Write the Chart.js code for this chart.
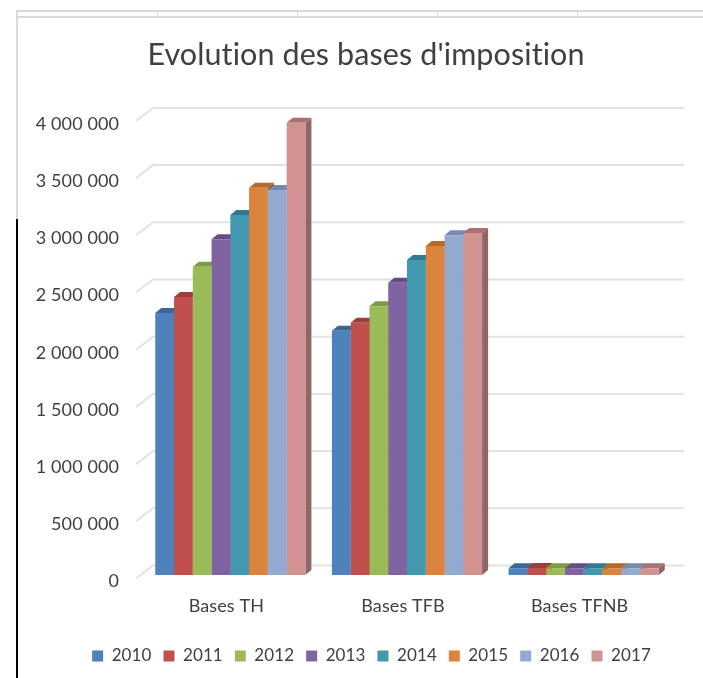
<!DOCTYPE html>
<html lang="fr">

<head>
    <meta charset="UTF-8">
    <title>Evolution des bases d'imposition</title>
    <style>
        body {
            margin: 0;
            background-color: #ffffff;
        }

        #wrap {
            position: relative;
            width: 703px;
            height: 678px;
            overflow: hidden;
        }

        /* spreadsheet cell borders around the pasted chart */
        .cell {
            position: absolute;
            background: #d9d9d9;
        }

        canvas {
            position: absolute;
            left: 0;
            top: 0;
        }
    </style>
</head>

<body>
    <div id="wrap">
        <div class="cell" style="left:16px;top:10px;width:687px;height:2px"></div>
        <div class="cell" style="left:16px;top:16px;width:687px;height:2px"></div>
        <div class="cell" style="left:16px;top:10px;width:2px;height:210px"></div>
        <div class="cell" style="left:157px;top:10px;width:1px;height:6px"></div>
        <div class="cell" style="left:297px;top:10px;width:1px;height:6px"></div>
        <div class="cell" style="left:437px;top:10px;width:1px;height:6px"></div>
        <div class="cell" style="left:577px;top:10px;width:1px;height:6px"></div>
        <div class="cell" style="left:16px;top:219px;width:2px;height:459px;background:#000000"></div>
        <canvas id="chart" width="703" height="678"></canvas>
    </div>

    <script src="https://cdn.jsdelivr.net/npm/chart.js"></script>
    <script>
        const categories = ["Bases TH", "Bases TFB", "Bases TFNB"];
        const years = ["2010", "2011", "2012", "2013", "2014", "2015", "2016", "2017"];
        const values2010 = [2290000, 2135000, 60000];
        const values2011 = [2430000, 2205000, 62000];
        const values2012 = [2695000, 2350000, 58000];
        const values2013 = [2935000, 2555000, 58000];
        const values2014 = [3147000, 2753000, 58000];
        const values2015 = [3385000, 2876000, 60000];
        const values2016 = [3365000, 2970000, 60000];
        const values2017 = [3954000, 2990000, 58000];
        const seriesValues = [values2010, values2011, values2012, values2013, values2014, values2015, values2016, values2017];
        const frontColors = ["#4f81bd", "#c0504d", "#9bbb59", "#8064a2", "#4198af", "#db843d", "#93a9cf", "#d19392"];
        const topColors = ["#3b6797", "#9c3e3c", "#7d9a45", "#644d84", "#2f7a90", "#b56a2b", "#7389b0", "#ab7170"];
        const sideColors = ["#34587f", "#823331", "#67803a", "#52406c", "#286676", "#955824", "#5f7291", "#8f6566"];

        // depth of the bars and of the back wall, in pixels
        const barDepthX = 6;
        const barDepthY = 5;
        const wallFrontX = 136;
        const wallBackX = 153;
        const wallRightX = 684;

        const fakeDepth = {
            id: "fakeDepth",
            // keeps Lato from joining "ti"
            beforeLayout(chart) {
                chart.ctx.letterSpacing = "0.1px";
                chart.ctx.textRendering = "optimizeSpeed";
            },
            // title and legend sit right of the canvas centre in the original
            afterLayout(chart) {
                chart.titleBlock.left += 30;
                chart.legend.left += 41;
            },
            beforeDatasetsDraw(chart) {
                const ctx = chart.ctx;
                const yScale = chart.scales.y;

                // gridlines on the floor edge and on the back wall
                ctx.save();
                ctx.strokeStyle = "#e2e2e2";
                ctx.lineWidth = 2;
                yScale.ticks.forEach((tick) => {
                    const y = yScale.getPixelForValue(tick.value);
                    ctx.beginPath();
                    ctx.moveTo(wallFrontX, y + 3.5);
                    ctx.lineTo(wallBackX, y - 9.5);
                    ctx.lineTo(wallRightX, y - 9.5);
                    ctx.stroke();
                });
                ctx.restore();

                // top and side face of each bar, left to right
                for (let c = 0; c < categories.length; c++) {
                    for (let s = 0; s < seriesValues.length; s++) {
                        const bar = chart.getDatasetMeta(s).data[c];
                        const left = bar.x - bar.width / 2;
                        const right = bar.x + bar.width / 2;
                        ctx.fillStyle = sideColors[s];
                        ctx.beginPath();
                        ctx.moveTo(right, bar.y);
                        ctx.lineTo(right + barDepthX, bar.y - barDepthY);
                        ctx.lineTo(right + barDepthX, bar.base - barDepthY);
                        ctx.lineTo(right, bar.base);
                        ctx.closePath();
                        ctx.fill();
                        ctx.fillStyle = topColors[s];
                        ctx.beginPath();
                        ctx.moveTo(left, bar.y);
                        ctx.lineTo(left + barDepthX, bar.y - barDepthY);
                        ctx.lineTo(right + barDepthX, bar.y - barDepthY);
                        ctx.lineTo(right, bar.y);
                        ctx.closePath();
                        ctx.fill();
                    }
                }
            }
        };

        new Chart(document.getElementById("chart"), {
            type: "bar",
            data: {
                labels: categories,
                datasets: years.map((year, i) => ({
                    label: year,
                    data: seriesValues[i],
                    backgroundColor: frontColors[i],
                    categoryPercentage: 0.85,
                    barPercentage: 1
                }))
            },
            options: {
                responsive: false,
                animation: false,
                layout: { padding: { left: 30, right: 31, top: 0, bottom: 3.5 } },
                scales: {
                    x: {
                        grid: { display: false, tickLength: 0 },
                        border: { display: false },
                        ticks: { color: "#404040", font: { family: "Lato", size: 18 }, padding: 20, labelOffset: -4 },
                        afterFit(scale) { scale.height = 60.5; }
                    },
                    y: {
                        min: 0,
                        max: 4000000,
                        grid: { display: false, tickLength: 0 },
                        border: { display: false },
                        ticks: {
                            stepSize: 500000,
                            color: "#404040",
                            font: { family: "Lato", size: 18 },
                            padding: 23,
                            labelOffset: 6.5,
                            callback: (v) => String(v).replace(/\B(?=(\d{3})+$)/g, " ")
                        },
                        afterFit(scale) { scale.width = 112; }
                    }
                },
                plugins: {
                    title: {
                        display: true,
                        text: "Evolution des bases d'imposition",
                        color: "#404040",
                        font: { family: "Lato", size: 30.5, weight: "normal" },
                        padding: { top: 37, bottom: 43.8 }
                    },
                    legend: {
                        position: "bottom",
                        labels: {
                            boxWidth: 11,
                            boxHeight: 11,
                            padding: 12,
                            color: "#404040",
                            font: { family: "Lato", size: 17 }
                        }
                    },
                    tooltip: { enabled: false }
                }
            },
            plugins: [fakeDepth]
        });
    </script>
</body>

</html>
